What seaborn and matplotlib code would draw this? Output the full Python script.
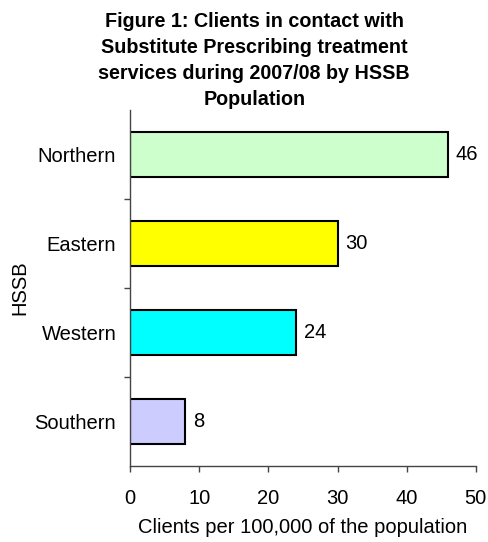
import matplotlib
matplotlib.use('Agg')
import matplotlib.pyplot as plt
import seaborn as sns
import pandas as pd
import numpy as np

regions = ['Northern', 'Eastern', 'Western', 'Southern']
clients = [46, 30, 24, 8]
colours = ['#CCFFCC', '#FFFF00', '#00FFFF', '#CCCCFF']
xticks = [0, 10, 20, 30, 40, 50]

sns.set_style('white')
plt.rcParams['font.family'] = ['Liberation Sans', 'DejaVu Sans']
plt.rcParams['text.color'] = 'black'
plt.rcParams['axes.labelcolor'] = 'black'
plt.rcParams['xtick.color'] = 'black'
plt.rcParams['ytick.color'] = 'black'

fs = 14.5

df = pd.DataFrame({'HSSB': regions, 'clients': clients})

fig = plt.figure(figsize=(4.89, 5.42), dpi=100)
ax = fig.add_axes([0.266, 0.140, 0.707, 0.657])

sns.barplot(data=df, x='clients', y='HSSB', hue='HSSB', palette=colours,
            order=regions, width=0.5, edgecolor='black', linewidth=1.5,
            saturation=1, legend=False, ax=ax, orient='h')

for i, v in enumerate(clients):
    ax.text(v + 1.1, i, str(v), va='center', ha='left', fontsize=fs)

ax.set_xlim(0, 50)
ax.set_ylim(3.5, -0.5)
ax.set_xticks(xticks)
ax.set_xticklabels([str(t) for t in xticks], fontsize=fs)
ax.tick_params(axis='x', bottom=True, direction='out', length=4.5, width=1,
               color='#444444', pad=12)
ax.set_yticks(range(len(regions)))
ax.set_yticklabels(regions, fontsize=fs)
ax.tick_params(axis='y', which='major', left=True, length=0, pad=10)
ax.set_yticks(np.arange(0.5, len(regions) - 0.5, 1), minor=True)
ax.tick_params(axis='y', which='minor', left=True, direction='out', length=4.5,
               width=1, color='#444444')

for s in ['top', 'right']:
    ax.spines[s].set_visible(False)
for s in ['left', 'bottom']:
    ax.spines[s].set_color('#444444')
    ax.spines[s].set_linewidth(1)

ax.set_xlabel('Clients per 100,000 of the population', fontsize=fs, labelpad=7)
ax.set_ylabel('HSSB', fontsize=fs, labelpad=4)

fig.text(0.52, 0.977,
         'Figure 1: Clients in contact with\nSubstitute Prescribing treatment\n'
         'services during 2007/08 by HSSB\nPopulation',
         ha='center', va='top', fontsize=14.2, fontweight='bold', linespacing=1.45)

fig.savefig('out.png', dpi=100)
